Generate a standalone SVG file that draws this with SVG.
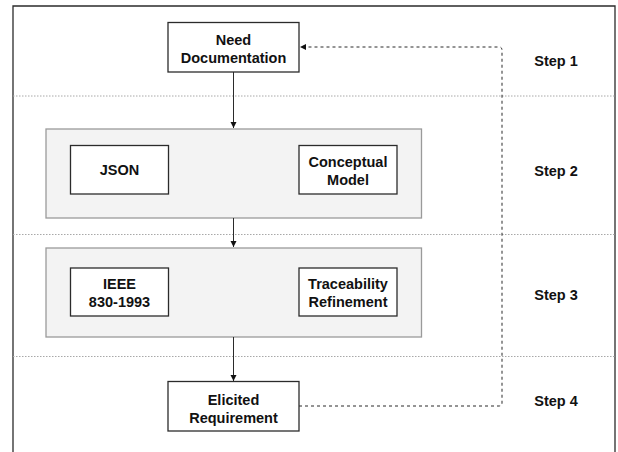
<svg xmlns="http://www.w3.org/2000/svg" width="618" height="452" viewBox="0 0 618 452">
<defs>
<style>
.box{fill:#ffffff;stroke:#2b2b2b;stroke-width:1.3}
.cont{fill:#f3f3f3;stroke:#9a9a9a;stroke-width:1.3}
.sep{stroke:#a8a8a8;stroke-width:1;stroke-dasharray:1.5 1.5;fill:none}
.t{font-family:"Liberation Sans",Arial,sans-serif;font-size:14.5px;font-weight:bold;fill:#111;text-anchor:middle}
.conn{stroke:#2b2b2b;stroke-width:1;fill:none}
.dash{stroke:#2b2b2b;stroke-width:1;fill:none;stroke-dasharray:3 3}
</style>
<marker id="ah" markerWidth="8" markerHeight="8" refX="7" refY="4" orient="auto" markerUnits="userSpaceOnUse">
<path d="M1,1 L7,4 L1,7 Z" fill="#111"/>
</marker>
</defs>
<rect x="0" y="0" width="618" height="452" fill="#ffffff"/>
<path d="M13,455 L13,6 L615,6 L615,455" fill="none" stroke="#2b2b2b" stroke-width="1.3"/>
<g id="separators">
<line class="sep" x1="13" y1="96" x2="615" y2="96"/>
<line class="sep" x1="13" y1="234.5" x2="615" y2="234.5"/>
<line class="sep" x1="13" y1="356.5" x2="615" y2="356.5"/>
</g>
<g id="container2"><rect class="cont" x="46" y="129" width="375.5" height="89"/></g>
<g id="container3"><rect class="cont" x="46" y="248" width="375.5" height="89"/></g>
<g id="connectors">
<line class="conn" x1="233.5" y1="72" x2="233.5" y2="128" marker-end="url(#ah)"/>
<line class="conn" x1="233.5" y1="218" x2="233.5" y2="247" marker-end="url(#ah)"/>
<line class="conn" x1="233.5" y1="337" x2="233.5" y2="381" marker-end="url(#ah)"/>
<path class="dash" d="M299,406 L499,406 Q502,406 502,403 L502,50 Q502,47 499,47 L300,47" marker-end="url(#ah)"/>
</g>
<g id="need-documentation">
<rect class="box" x="168" y="22.5" width="131" height="49.5"/>
<text class="t" x="233.5" y="45">Need</text>
<text class="t" x="233.5" y="63">Documentation</text>
</g>
<g id="json">
<rect class="box" x="70.5" y="145.5" width="98" height="48.5"/>
<text class="t" x="119.5" y="175">JSON</text>
</g>
<g id="conceptual-model">
<rect class="box" x="299" y="145.5" width="98" height="48.5"/>
<text class="t" x="348" y="167">Conceptual</text>
<text class="t" x="348" y="185">Model</text>
</g>
<g id="ieee">
<rect class="box" x="70.5" y="268" width="98" height="48"/>
<text class="t" x="119.5" y="289">IEEE</text>
<text class="t" x="119.5" y="307">830-1993</text>
</g>
<g id="traceability-refinement">
<rect class="box" x="299" y="268" width="98" height="48"/>
<text class="t" x="348" y="289">Traceability</text>
<text class="t" x="348" y="307">Refinement</text>
</g>
<g id="elicited-requirement">
<rect class="box" x="168" y="381.5" width="131" height="49.5"/>
<text class="t" x="233.5" y="405">Elicited</text>
<text class="t" x="233.5" y="423">Requirement</text>
</g>
<g id="steps">
<text class="t" x="556" y="65.5">Step 1</text>
<text class="t" x="556" y="175.5">Step 2</text>
<text class="t" x="556" y="299.5">Step 3</text>
<text class="t" x="556" y="405.5">Step 4</text>
</g>
</svg>
